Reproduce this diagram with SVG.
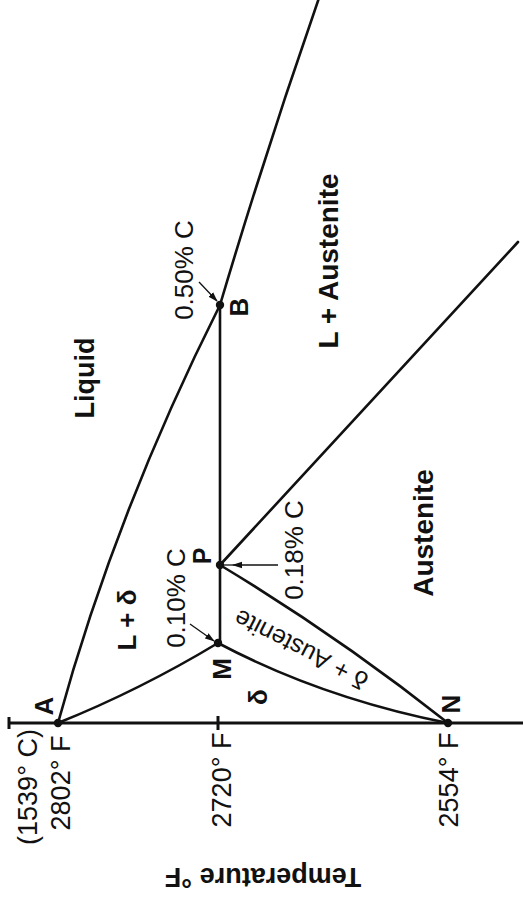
<svg xmlns="http://www.w3.org/2000/svg" width="523" height="901" viewBox="0 0 523 901">
<defs>
<style>
.ln{fill:none;stroke:#111;stroke-width:2.6;stroke-linecap:round}
.ax{fill:none;stroke:#111;stroke-width:3}
.ar{fill:none;stroke:#111;stroke-width:1.3}
.dot{fill:#111}
text{font-family:"Liberation Sans",Arial,sans-serif;fill:#111;text-anchor:middle}
.b{font-weight:bold}
.n{font-weight:normal}
</style>
<marker id="ah" markerWidth="10" markerHeight="8" refX="9" refY="4" orient="auto" markerUnits="userSpaceOnUse">
<path d="M0,0.8 L10,4 L0,7.2 Z" fill="#111"/>
</marker>
</defs>
<rect width="523" height="901" fill="#fff"/>
<g id="connectors">
<path class="ax" d="M9,723 H523"/>
<path class="ax" d="M9,717 V729"/>
<path class="ax" d="M218,716 V730"/>
<path class="ln" d="M58,723 Q115,514 220,305"/>
<path class="ln" d="M220,305 Q266,150 319,-2"/>
<path class="ln" d="M220,305 V643"/>
<path class="ln" d="M58,723 Q140,690 218,643"/>
<path class="ln" d="M218,643 Q322,698 448,723"/>
<path class="ln" d="M220,565 Q338,636 448,723"/>
<path class="ln" d="M220,565 L518,242"/>
<path class="ar" d="M199,282 L217,301" marker-end="url(#ah)"/>
<path class="ar" d="M190,624 L214,641" marker-end="url(#ah)"/>
<path class="ar" d="M278,565 L233,565" marker-end="url(#ah)"/>
<path class="ar" d="M233,565 L221,565"/>
</g>
<g id="node-A"><circle class="dot" cx="58" cy="723" r="4.2"/><text class="b" font-size="26" transform="translate(53,706) rotate(-90)">A</text></g>
<g id="node-B"><circle class="dot" cx="220" cy="305" r="4.2"/><text class="b" font-size="26" transform="translate(248,307) rotate(-90)">B</text></g>
<g id="node-P"><circle class="dot" cx="220" cy="565" r="4.2"/><text class="b" font-size="25" transform="translate(211,556) rotate(-90)">P</text></g>
<g id="node-M"><circle class="dot" cx="218" cy="643" r="4.2"/><text class="b" font-size="26" transform="translate(231,669) rotate(-90)">M</text></g>
<g id="node-N"><circle class="dot" cx="448" cy="723" r="4.2"/><text class="b" font-size="26" transform="translate(460,704) rotate(-90)">N</text></g>
<g id="label-liquid"><text class="b" font-size="27" transform="translate(94,378) rotate(-90)">Liquid</text></g>
<g id="label-l-delta"><text class="b" font-size="26" transform="translate(136,620) rotate(-90)">L + δ</text></g>
<g id="label-delta"><text class="b" font-size="26" transform="translate(267,697) rotate(-90)">δ</text></g>
<g id="label-l-austenite"><text class="b" font-size="28" transform="translate(338,261) rotate(-90)">L + Austenite</text></g>
<g id="label-austenite"><text class="b" font-size="28" transform="translate(433,533) rotate(-90)">Austenite</text></g>
<g id="label-delta-austenite"><text class="n" font-size="25" transform="translate(305,642) rotate(207)">δ + Austenite</text></g>
<g id="label-050"><text class="n" font-size="26" transform="translate(193,270) rotate(-90)">0.50% C</text></g>
<g id="label-010"><text class="n" font-size="26" transform="translate(185,598) rotate(-90)">0.10% C</text></g>
<g id="label-018"><text class="n" font-size="26" transform="translate(303,550) rotate(-90)">0.18% C</text></g>
<g id="label-temp-c"><text class="n" font-size="27" transform="translate(37,787) rotate(-90)">(1539° C)</text></g>
<g id="label-2802"><text class="n" font-size="27" transform="translate(70,783) rotate(-90)">2802° F</text></g>
<g id="label-2720"><text class="n" font-size="27" transform="translate(231,780) rotate(-90)">2720° F</text></g>
<g id="label-2554"><text class="n" font-size="27" transform="translate(458,780) rotate(-90)">2554° F</text></g>
<g id="label-axis"><text class="b" font-size="27" transform="translate(263,868) rotate(180)">Temperature °F</text></g>
</svg>
